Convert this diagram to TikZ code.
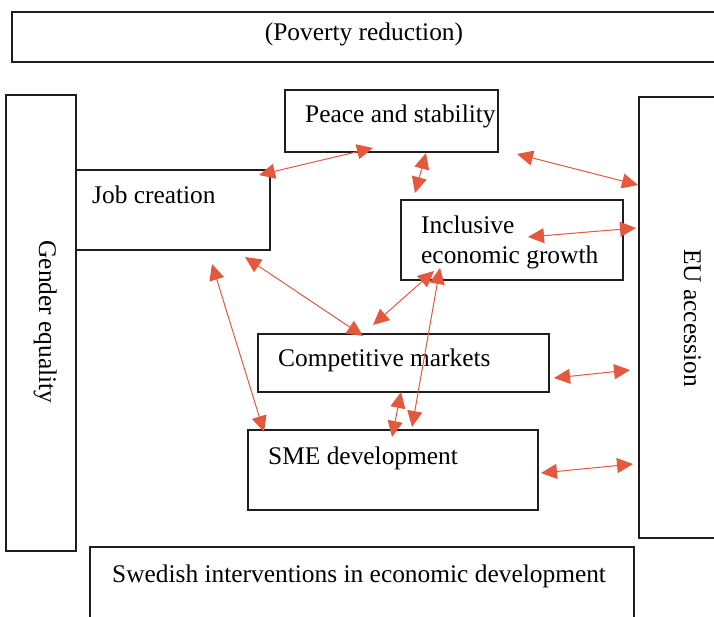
\documentclass[tikz,border=0pt]{standalone}
\usepackage{fontspec}
\setmainfont{Liberation Serif}
\usetikzlibrary{arrows.meta}
\definecolor{arrowred}{RGB}{228,88,62}
\definecolor{boxline}{RGB}{30,30,30}
\begin{document}
\begin{tikzpicture}[x=1pt,y=-1pt,
  box/.style={draw=boxline,line width=1.2pt,fill=white,inner sep=0pt,outer sep=0pt,anchor=north west},
  lbl/.style={inner sep=0pt,anchor=base west,font=\fontsize{25.4}{30}\selectfont},
  link/.style={draw=arrowred,line width=1pt,{Triangle[length=16pt,width=15pt]}-{Triangle[length=16pt,width=15pt]}}]
\useasboundingbox (0,0) rectangle (714,617);
% boxes
\node[box,minimum width=712pt,minimum height=50pt] (pov) at (12,12) {};
\node[box,minimum width=70pt,minimum height=456pt] (gender) at (6,95) {};
\node[box,minimum width=80pt,minimum height=441pt] (eu) at (639,97) {};
\node[box,minimum width=213pt,minimum height=62pt] (peace) at (285,90) {};
\node[box,minimum width=194pt,minimum height=80pt] (job) at (76,170) {};
\node[box,minimum width=222pt,minimum height=80pt] (incl) at (401,200) {};
\node[box,minimum width=291pt,minimum height=58pt] (comp) at (258,334) {};
\node[box,minimum width=290pt,minimum height=80pt] (sme) at (248,430) {};
\node[box,minimum width=544pt,minimum height=80pt] (swed) at (90,547) {};
% labels
\node[lbl,anchor=base] (povt) at (364,41) {(Poverty reduction)};
\node[lbl,anchor=base,rotate=-90] (gendt) at (39,322) {Gender equality};
\node[lbl,anchor=base,rotate=-90] (eut) at (684,318) {EU accession};
\node[lbl] (peacet) at (305,123) {Peace and stability};
\node[lbl] (jobt) at (92,204) {Job creation};
\node[lbl,align=left,anchor=north west] (inclt) at (421,216) {Inclusive\\economic growth};
\node[lbl] (compt) at (278,366) {Competitive markets};
\node[lbl] (smet) at (268,464) {SME development};
\node[lbl] (swedt) at (112,582) {Swedish interventions in economic development};
% arrow end points
\coordinate (a1) at (259,175); \coordinate (b1) at (373,148);
\coordinate (a2) at (426,153); \coordinate (b2) at (415,193);
\coordinate (a3) at (517,154); \coordinate (b3) at (638,185);
\coordinate (a4) at (528,237); \coordinate (b4) at (636,228);
\coordinate (a5) at (245,257); \coordinate (b5) at (363,336);
\coordinate (a6) at (373,325); \coordinate (b6) at (434,271);
\coordinate (a7) at (212,264); \coordinate (b7) at (264,432);
\coordinate (a8) at (440,268); \coordinate (b8) at (412,427);
\coordinate (a9) at (401,392); \coordinate (b9) at (392,437);
\coordinate (a10) at (554,378); \coordinate (b10) at (630,370);
\coordinate (a11) at (541,473); \coordinate (b11) at (633,464);
\foreach \i in {1,...,11} {\draw[link] (a\i) -- (b\i);}
\end{tikzpicture}
\end{document}
